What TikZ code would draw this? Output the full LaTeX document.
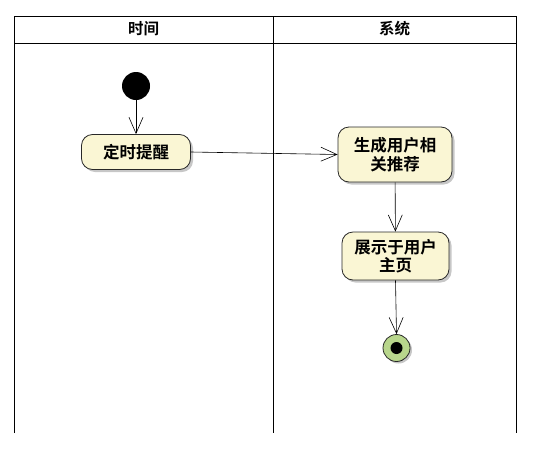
\documentclass[tikz,border=0pt]{standalone}
\usepackage{fontspec}
\newfontfamily\cjk{Noto Sans CJK SC}[BoldFont={Noto Sans CJK SC Bold}]
\usetikzlibrary{arrows.meta,shadows}
\definecolor{actfill}{RGB}{250,246,212}
\definecolor{actedge}{RGB}{40,40,40}
\definecolor{endfill}{RGB}{184,214,140}
\tikzset{
  lane/.style={draw=black,line width=1pt},
  act/.style={draw=actedge,line width=0.8pt,rounded corners=11pt,fill=actfill,
    drop shadow={shadow xshift=2.5pt,shadow yshift=-2.5pt,fill=black!22,opacity=1},
    align=center,font=\cjk\bfseries\fontsize{16.5}{18.5}\selectfont,inner sep=0pt},
  flow/.style={draw=black,line width=0.6pt,-{Straight Barb[length=16pt,width=14pt,line width=0.6pt]}},
  hdr/.style={font=\cjk\bfseries\fontsize{15.5}{17}\selectfont}
}
\begin{document}
\begin{tikzpicture}[x=1pt,y=-1pt]
\useasboundingbox (0,0) rectangle (537,458);
% swimlanes
\draw[lane] (14,433) -- (14,16) -- (516,16) -- (516,433);
\draw[lane] (273,16) -- (273,433);
\draw[lane] (14,43) -- (516,43);
\node[hdr] (h1) at (143.5,29) {时间};
\node[hdr] (h2) at (394.5,29) {系统};
% nodes
\node[circle,fill=black,minimum size=28pt,inner sep=0pt] (start) at (136,86) {};
\node[act,minimum width=109pt,minimum height=35pt] (remind) at (136,152) {定时提醒};
\node[act,minimum width=114pt,minimum height=55pt] (gen) at (395,154.5) {生成用户相\\关推荐};
\node[act,minimum width=107pt,minimum height=48pt] (show) at (395.5,256) {展示于用户\\主页};
\node[circle,draw=actedge,line width=0.8pt,fill=endfill,minimum size=27pt,inner sep=0pt,
  drop shadow={shadow xshift=2pt,shadow yshift=-2pt,fill=black!22,opacity=1}] (end) at (396.5,348) {};
\node[circle,fill=black,minimum size=12pt,inner sep=0pt] (endin) at (end.center) {};
% flows
\draw[flow] (start) -- (remind);
\draw[flow] (remind.east) -- (gen.west);
\draw[flow] (gen) -- (show);
\draw[flow] (show.south) -- (end.north);
\end{tikzpicture}
\end{document}
